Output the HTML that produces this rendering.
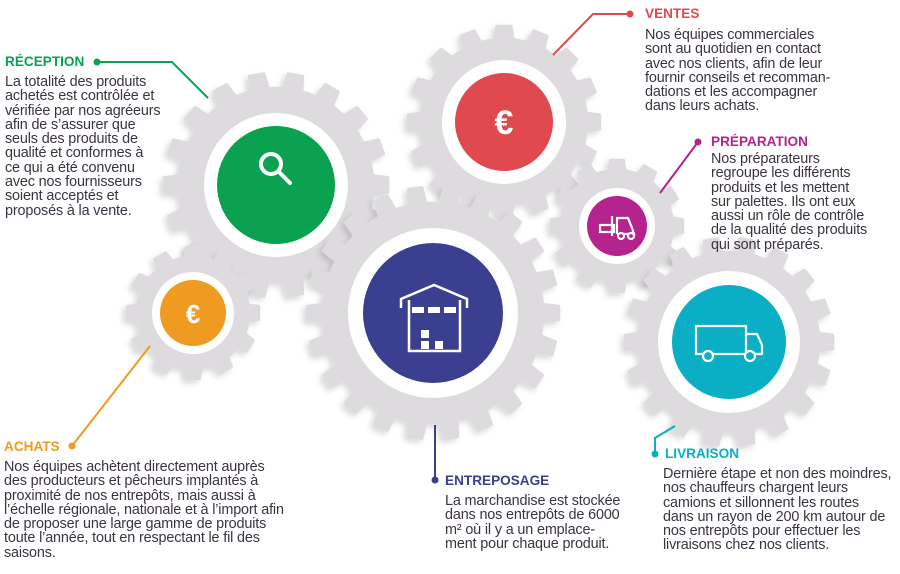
<!DOCTYPE html>
<html><head><meta charset="utf-8">
<style>
body{margin:0;width:900px;height:574px;background:#fff;position:relative;overflow:hidden;font-family:"Liberation Sans",sans-serif}
svg{position:absolute;left:0;top:0}
.t{position:absolute;font-size:14.4px;line-height:14.3px;color:#3b3340;white-space:nowrap;letter-spacing:-0.15px}
.h{position:absolute;font-weight:bold;font-size:13.6px;white-space:nowrap}
</style></head><body>
<svg id="s" width="900" height="574" viewBox="0 0 900 574">
<defs><filter id="sh" x="-20%" y="-20%" width="140%" height="140%"><feDropShadow dx="-3" dy="3" stdDeviation="3" flood-color="#000" flood-opacity="0.15"/></filter></defs>
<g id="gears"></g>
<g stroke-width="2" fill="none">
<polyline points="97,62 172,62 208,98" stroke="#0aa150"/>
<polyline points="630,14 593,14 553,55" stroke="#e04a4e"/>
<polyline points="698,142 660,193" stroke="#b5238e"/>
<polyline points="72,446 150,346" stroke="#ef9a20"/>
<polyline points="435,480 435,425" stroke="#3a3f8f"/>
<polyline points="655,454 655,438 675,426" stroke="#0aaec5"/>
</g>
<circle cx="97" cy="62" r="3.5" fill="#0aa150"/>
<circle cx="630" cy="14" r="3.5" fill="#e04a4e"/>
<circle cx="698" cy="142" r="3.5" fill="#b5238e"/>
<circle cx="72" cy="446" r="3.5" fill="#ef9a20"/>
<circle cx="435" cy="480" r="3.5" fill="#3a3f8f"/>
<circle cx="655" cy="454" r="3.5" fill="#0aaec5"/>
<g stroke="#fff" fill="none" stroke-width="4" stroke-linecap="round">
<circle cx="271" cy="164" r="10"/><line x1="279" y1="172" x2="290" y2="183"/>
</g>
<text x="504" y="134" font-family="Liberation Sans" font-weight="bold" font-size="34" fill="#fff" text-anchor="middle">€</text>
<text x="193" y="323" font-family="Liberation Sans" font-weight="bold" font-size="26" fill="#fff" text-anchor="middle">€</text>
<g stroke="#fff" fill="none" stroke-width="2.5">
<polyline points="401,308 401,299 434,285 467,299 467,308"/>
<polyline points="409,300 409,351 460,351 460,300"/>
</g>
<g fill="#fff">
<rect x="412" y="307" width="12" height="6"/><rect x="428" y="307" width="12" height="6"/><rect x="444" y="307" width="12" height="6"/>
<rect x="421" y="330" width="8" height="8"/><rect x="421" y="341" width="8" height="8"/><rect x="435" y="341" width="8" height="8"/>
</g>
<g stroke="#fff" fill="none" stroke-width="2.2">
<rect x="696" y="326" width="50" height="28"/><polyline points="746,334 757,334 762,345 762,354 746,354"/>
<circle cx="708" cy="356" r="5" fill="#0aaec5"/><circle cx="750" cy="356" r="5" fill="#0aaec5"/>
<rect x="600" y="225" width="14" height="7"/><polyline points="617,234 617,218 628,218 632,228 634,234 617,234"/>
<circle cx="621" cy="236" r="3" fill="#b5238e"/><circle cx="631" cy="236" r="3" fill="#b5238e"/>
<line x1="612" y1="216" x2="612" y2="236"/>
</g>
</svg>
<script>
function gear(cx,cy,R,n,body,white,inner,col){
 var pts=[],r1=R,r0=body;
 for(var i=0;i<n;i++){
  var a=i*2*Math.PI/n,w=Math.PI/n;
  var seq=[[r0,a-w*0.55],[r1,a-w*0.38],[r1,a+w*0.38],[r0,a+w*0.55]];
  seq.forEach(function(p){pts.push((cx+p[0]*Math.cos(p[1])).toFixed(1)+','+(cy+p[0]*Math.sin(p[1])).toFixed(1));});
 }
 return '<polygon points="'+pts.join(' ')+'" fill="#dddbde" stroke="#dddbde" stroke-width="3" stroke-linejoin="round" filter="url(#sh)"/>'+
 '<circle cx="'+cx+'" cy="'+cy+'" r="'+white+'" fill="#fff"/>'+
 '<circle cx="'+cx+'" cy="'+cy+'" r="'+inner+'" fill="'+col+'"/>';
}
var g='';
g+=gear(504,122,96,16,83,62,49,'#e04a4e');
g+=gear(617,226,66,12,56,38,30,'#b5238e');
g+=gear(276,185,112,18,97,72,59,'#0aa150');
g+=gear(193,313,66,12,56,41,33,'#ef9a20');
g+=gear(729,342,104,18,90,71,57,'#0aaec5');
g+=gear(433,313,126,22,110,85,70,'#3a3f8f');
document.getElementById('gears').innerHTML=g;
</script>
<div class="h" style="left:5px;top:54px;color:#0aa150">RÉCEPTION</div>
<div class="t" style="left:5px;top:75px">La totalité des produits<br>achetés est contrôlée et<br>vérifiée par nos agréeurs<br>afin de s’assurer que<br>seuls des produits de<br>qualité et conformes à<br>ce qui a été convenu<br>avec nos fournisseurs<br>soient acceptés et<br>proposés à la vente.</div>
<div class="h" style="left:645px;top:6px;color:#e04a4e">VENTES</div>
<div class="t" style="left:645px;top:28px">Nos équipes commerciales<br>sont au quotidien en contact<br>avec nos clients, afin de leur<br>fournir conseils et recomman-<br>dations et les accompagner<br>dans leurs achats.</div>
<div class="h" style="left:711px;top:134px;color:#b5238e">PRÉPARATION</div>
<div class="t" style="left:711px;top:152px">Nos préparateurs<br>regroupe les différents<br>produits et les mettent<br>sur palettes. Ils ont eux<br>aussi un rôle de contrôle<br>de la qualité des produits<br>qui sont préparés.</div>
<div class="h" style="left:4px;top:439px;color:#ef9a20">ACHATS</div>
<div class="t" style="left:4px;top:460px">Nos équipes achètent directement auprès<br>des producteurs et pêcheurs implantés à<br>proximité de nos entrepôts, mais aussi à<br>l’échelle régionale, nationale et à l’import afin<br>de proposer une large gamme de produits<br>toute l’année, tout en respectant le fil des<br>saisons.</div>
<div class="h" style="left:445px;top:473px;color:#3a3f8f">ENTREPOSAGE</div>
<div class="t" style="left:445px;top:494px">La marchandise est stockée<br>dans nos entrepôts de 6000<br>m² où il y a un emplace-<br>ment pour chaque produit.</div>
<div class="h" style="left:665px;top:446px;color:#0aaec5">LIVRAISON</div>
<div class="t" style="left:663px;top:467px">Dernière étape et non des moindres,<br>nos chauffeurs chargent leurs<br>camions et sillonnent les routes<br>dans un rayon de 200 km autour de<br>nos entrepôts pour effectuer les<br>livraisons chez nos clients.</div>
</body></html>
